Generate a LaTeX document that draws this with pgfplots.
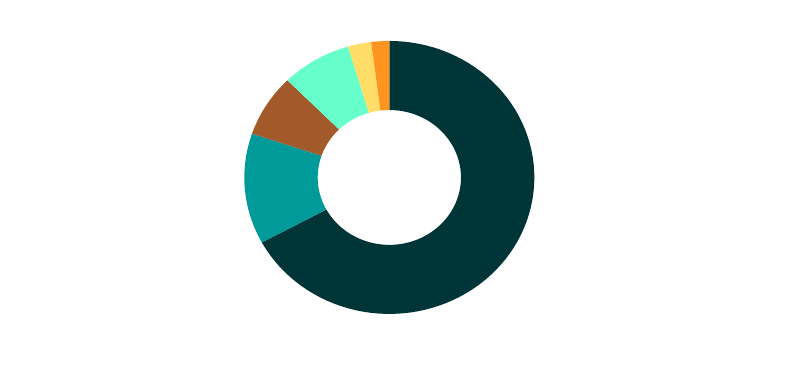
\documentclass[border=0pt]{standalone}
\usepackage{pgfplots}
\pgfplotsset{compat=1.18}
\definecolor{cDark}{HTML}{003537}
\definecolor{cTeal}{HTML}{009A98}
\definecolor{cBrown}{HTML}{A35A2B}
\definecolor{cMint}{HTML}{66FFCC}
\definecolor{cYellow}{HTML}{FFDD66}
\definecolor{cOrange}{HTML}{FF9420}
% #1 colour, #2 cumulative start (percent), #3 share (percent)
\newcommand\donutseg[3]{%
  \addplot[fill=#1, draw=none, domain=0:3, samples=241, variable=\t]
    ({(1-(1-0.494)*min(1,max(0,\t-1)))*cos(90-3.6*(#2+#3*min(\t,1,3-\t)))},
     {(1-(1-0.494)*min(1,max(0,\t-1)))*sin(90-3.6*(#2+#3*min(\t,1,3-\t)))}) -- cycle;
}
\begin{document}
\begin{tikzpicture}
\begin{axis}[
  scale only axis, width=8in, height=3.74in,
  xmin=-2.685, xmax=2.832, ymin=-1.440, ymax=1.300,
  hide axis, clip=false,
]
\donutseg{cDark}{0}{67.1}
\donutseg{cTeal}{67.1}{13.1}
\donutseg{cBrown}{80.2}{7.4}
\donutseg{cMint}{87.6}{7.8}
\donutseg{cYellow}{95.4}{2.6}
\donutseg{cOrange}{98.0}{2.0}
\end{axis}
\pgfresetboundingbox
\useasboundingbox (current axis.south west) rectangle (current axis.north east);
\end{tikzpicture}
\end{document}
